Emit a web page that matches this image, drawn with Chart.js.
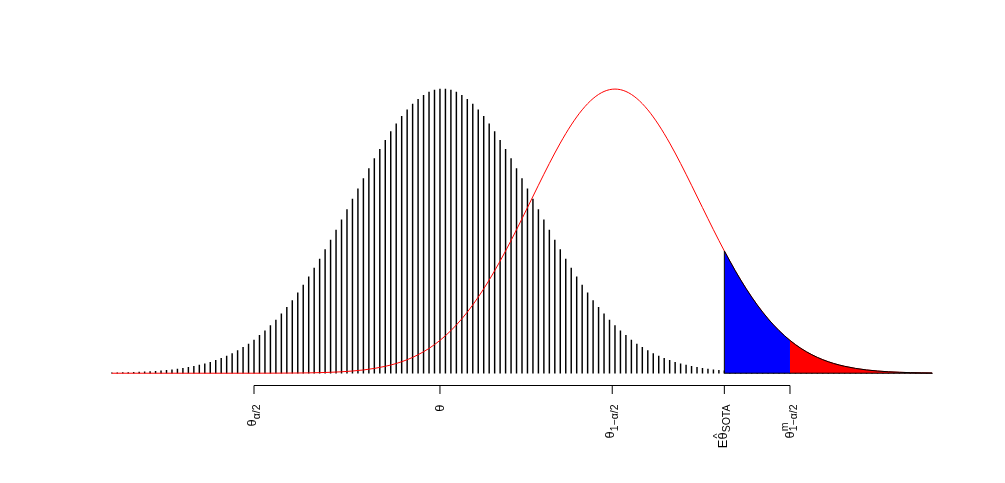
<!DOCTYPE html>
<html>
<head>
<meta charset="utf-8">
<script src="https://cdn.jsdelivr.net/npm/chart.js@4.4.1/dist/chart.umd.min.js"></script>
<style>
  html, body { margin: 0; padding: 0; background: #fff; }
  #marco { width: 1005px; height: 483px; }
</style>
</head>
<body>
<div id="marco"><canvas id="grafico"></canvas></div>
<script>
// Alturas de las líneas verticales negras (una por punto de la rejilla 0..150)
const alturasLineas = [
    0.0014, 0.0017, 0.0021, 0.0026, 0.0032, 0.0039, 0.0048, 0.0058, 0.0070, 0.0084,
    0.0101, 0.0121, 0.0145, 0.0172, 0.0204, 0.0241, 0.0283, 0.0332, 0.0387, 0.0450,
    0.0522, 0.0603, 0.0694, 0.0796, 0.0909, 0.103, 0.117, 0.133, 0.149, 0.168,
    0.187, 0.209, 0.232, 0.256, 0.283, 0.310, 0.339, 0.370, 0.402, 0.435,
    0.469, 0.504, 0.540, 0.576, 0.613, 0.649, 0.685, 0.720, 0.755, 0.788,
    0.820, 0.850, 0.878, 0.904, 0.927, 0.947, 0.964, 0.978, 0.989, 0.996,
    1.000,
    1.000, 0.996, 0.989, 0.978, 0.964, 0.947, 0.927, 0.904, 0.878, 0.850,
    0.820, 0.788, 0.755, 0.720, 0.685, 0.649, 0.613, 0.576, 0.540, 0.504,
    0.469, 0.435, 0.402, 0.370, 0.339, 0.310, 0.283, 0.256, 0.232, 0.209,
    0.187, 0.168, 0.149, 0.133, 0.117, 0.103, 0.0909, 0.0796, 0.0694, 0.0603,
    0.0522, 0.0450, 0.0387, 0.0332, 0.0283, 0.0241, 0.0204, 0.0172, 0.0145, 0.0121,
    0.0101, 0.0084, 0.0070, 0.0058, 0.0048, 0.0039, 0.0032, 0.0026, 0.0021, 0.0017,
    0.0014,
    0.0011, 0.0009, 0.0007, 0.0006, 0.0004, 0.0003, 0.0003, 0.0002, 0.0002, 0.0001,
    0.0001, 0.0001, 0.0001, 0, 0, 0, 0, 0, 0, 0,
    0, 0, 0, 0, 0, 0, 0, 0, 0
];

// Curva roja: posiciones en la rejilla y alturas
const curvaX = [
    0, 2, 4, 6, 8, 10, 12, 14, 16, 18, 20, 22, 24, 26, 28, 30, 32, 34, 36, 38,
    40, 42, 44, 46, 48, 50, 52, 54, 56, 58, 60, 62, 64, 66, 68, 70, 72, 74, 76, 78,
    80, 82, 84, 86, 88, 90, 92, 94, 96, 98, 100, 102, 104, 106, 108, 110, 112, 114, 116, 118,
    120, 122, 124, 126, 128, 130, 132, 134, 136, 138, 140, 142, 144, 146, 148, 150
];
const curvaY = [
    0, 0, 0, 0, 0, 0, 0, 0, 0, 0, 0, 0, 0.0001, 0.0001, 0.0002, 0.0003, 0.0005, 0.0008, 0.0013, 0.0021,
    0.0033, 0.0051, 0.0078, 0.0115, 0.0169, 0.0243, 0.0343, 0.0476, 0.0651, 0.0874,
    0.1155, 0.1500, 0.1915, 0.2405, 0.2970, 0.3605, 0.4303, 0.5051, 0.5830, 0.6615,
    0.7382, 0.8100, 0.8738, 0.9269, 0.9668, 0.9916, 1.0000, 0.9916, 0.9668, 0.9269,
    0.8738, 0.8100, 0.7382, 0.6615, 0.5830, 0.5051, 0.4303, 0.3605, 0.2970, 0.2405,
    0.1915, 0.1500, 0.1155, 0.0874, 0.0651, 0.0476, 0.0343, 0.0243, 0.0169, 0.0115,
    0.0078, 0.0051, 0.0033, 0.0021, 0.0013, 0.0008
];

// Límites de las zonas sombreadas
const inicioAzul = 112;
const inicioRojo = 124;
const finSombra = 150;

// Marcas del eje x y sus etiquetas (partes: texto, tamaño, desplazamiento de línea base)
const valoresMarcas = [26, 60, 91.5, 112, 124];
const etiquetasMarcas = [
    [{ t: 'θ', s: 13, dy: 0 }, { t: 'α/2', s: 10.5, dy: 3.5 }],
    [{ t: 'θ', s: 13, dy: 0 }],
    [{ t: 'θ', s: 13, dy: 0 }, { t: '1−α/2', s: 10.5, dy: 3.5 }],
    [{ t: 'E', s: 13, dy: 0 }, { t: 'θ', s: 13, dy: 0 }, { t: '^', s: 11, dy: -6, apilar: true }, { t: 'SOTA', s: 10.5, dy: 3.5 }],
    [{ t: 'θ', s: 13, dy: 0 }, { t: 'm', s: 10.5, dy: -5.5 }, { t: '1−α/2', s: 10.5, dy: 3.5, apilar: true }]
];

const fuente = '"Liberation Sans", Arial, sans-serif';

const puntosCurva = curvaX.map((x, i) => ({ x: x, y: curvaY[i] }));
const zonaAzul = puntosCurva.filter(p => p.x >= inicioAzul && p.x <= inicioRojo);
const zonaRoja = puntosCurva.filter(p => p.x >= inicioRojo && p.x <= finSombra);
const alturaInicio = curvaY[curvaX.indexOf(inicioAzul)];

function dibujarEtiqueta(ctx, partes, x, yFin) {
    let cursor = 0, inicioPrev = 0, anchoPrev = 0, arriba = 0, abajo = 0;
    const colocadas = [];
    partes.forEach(p => {
        ctx.font = p.s + 'px ' + fuente;
        const w = ctx.measureText(p.t).width;
        // "apilar": se centra sobre la parte anterior (acento o subíndice bajo superíndice)
        let x0 = cursor;
        if (p.apilar) x0 = p.t === '^' ? inicioPrev + (anchoPrev - w) / 2 : inicioPrev;
        else { inicioPrev = x0; anchoPrev = w; }
        cursor = Math.max(cursor, x0 + w);
        if (p.t !== '^') {
            arriba = Math.min(arriba, p.dy - 0.72 * p.s);
            abajo = Math.max(abajo, p.dy + 0.15 * p.s);
        }
        colocadas.push(Object.assign({}, p, { x0: x0 }));
    });
    const ancho = cursor;
    const base = -(arriba + abajo) / 2;
    ctx.save();
    ctx.translate(x, yFin);
    ctx.rotate(-Math.PI / 2);
    ctx.fillStyle = '#000';
    ctx.textBaseline = 'alphabetic';
    ctx.textAlign = 'left';
    colocadas.forEach(p => {
        ctx.font = p.s + 'px ' + fuente;
        ctx.fillText(p.t, p.x0 - ancho, base + p.dy);
    });
    ctx.restore();
}

// Eje inferior estilo R: línea solo entre la primera y la última marca
const ejeInferior = {
    id: 'ejeInferior',
    afterDraw(chart) {
        const ctx = chart.ctx;
        const escala = chart.scales.x;
        const yEje = Math.round(chart.chartArea.bottom) + 0.5;
        const xs = valoresMarcas.map(v => escala.getPixelForValue(v));
        ctx.save();
        ctx.strokeStyle = '#000';
        ctx.lineWidth = 1;
        ctx.beginPath();
        ctx.moveTo(xs[0], yEje);
        ctx.lineTo(xs[xs.length - 1], yEje);
        xs.forEach(x => { ctx.moveTo(x, yEje); ctx.lineTo(x, yEje + 8.5); });
        ctx.stroke();
        etiquetasMarcas.forEach((partes, k) => dibujarEtiqueta(ctx, partes, xs[k], yEje + 19));
        ctx.restore();
    }
};

const transparente = 'rgba(0,0,0,0)';

new Chart(document.getElementById('grafico'), {
    type: 'bar',
    data: {
        datasets: [
            {
                type: 'bar',
                data: alturasLineas.map((h, i) => ({ x: i, y: h })),
                backgroundColor: '#000',
                borderWidth: 0,
                barThickness: 0.8,
                order: 6
            },
            {
                type: 'line',
                data: puntosCurva,
                borderColor: '#ff0000',
                borderWidth: 1,
                pointRadius: 0,
                fill: false,
                cubicInterpolationMode: 'monotone',
                order: 5
            },
            {
                type: 'line',
                data: zonaAzul,
                borderColor: transparente,
                borderWidth: 0,
                backgroundColor: '#0000ff',
                pointRadius: 0,
                fill: 'origin',
                cubicInterpolationMode: 'monotone',
                order: 4
            },
            {
                type: 'line',
                data: zonaRoja,
                borderColor: transparente,
                borderWidth: 0,
                backgroundColor: '#ff0000',
                pointRadius: 0,
                fill: 'origin',
                cubicInterpolationMode: 'monotone',
                order: 3
            },
            {
                type: 'line',
                data: puntosCurva.filter(p => p.x >= inicioAzul),
                borderColor: '#000',
                borderWidth: 1,
                pointRadius: 0,
                fill: false,
                cubicInterpolationMode: 'monotone',
                order: 2
            },
            {
                type: 'line',
                data: [{ x: inicioAzul, y: 0 }, { x: inicioAzul, y: alturaInicio }],
                borderColor: '#000',
                borderWidth: 1,
                pointRadius: 0,
                fill: false,
                order: 1
            },
            {
                type: 'line',
                data: [{ x: inicioAzul, y: 0 }, { x: finSombra, y: 0 }],
                borderColor: '#000',
                borderWidth: 1,
                pointRadius: 0,
                fill: false,
                order: 1
            }
        ]
    },
    options: {
        responsive: true,
        maintainAspectRatio: false,
        animation: false,
        devicePixelRatio: 1,
        layout: { padding: { left: 79, right: 40, top: 77.7, bottom: 98.4 } },
        plugins: {
            legend: { display: false },
            tooltip: { enabled: false }
        },
        scales: {
            x: { type: 'linear', min: -6, max: 156, offset: false, display: false, grid: { offset: false } },
            y: { min: -0.04, max: 1.04, display: false }
        }
    },
    plugins: [ejeInferior]
});
</script>
</body>
</html>
